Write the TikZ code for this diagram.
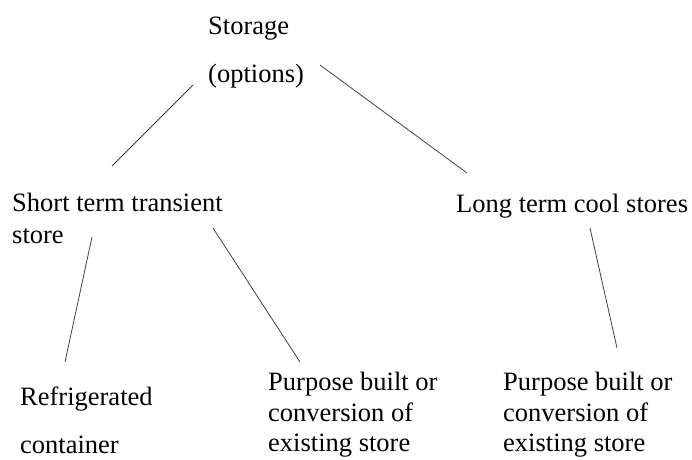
\documentclass[tikz,border=0pt]{standalone}
\usepackage{fontspec}
\setmainfont{Liberation Serif}
\begin{document}
\begin{tikzpicture}[x=1pt,y=-1pt,
  lbl/.style={anchor=base west,inner sep=0pt,align=left,font=\rmfamily\fontsize{26.5}{31.5}\selectfont},
  conn/.style={draw=black!75,line width=0.8pt}]
\useasboundingbox (0,0) rectangle (692,459);
\node[lbl] (storage) at (208,82) {Storage\\[16.5pt](options)};
\node[lbl] (short) at (12,243) {Short term transient\\store};
\node[lbl] (long) at (456,212) {Long term cool stores};
\node[lbl] (refrig) at (20,453) {Refrigerated\\[16.5pt]container};
\node[lbl] (pb1) at (268,451.5) {Purpose built or\\[-1pt]conversion of\\[-1pt]existing store};
\node[lbl] (pb2) at (503,451.5) {Purpose built or\\[-1pt]conversion of\\[-1pt]existing store};
\coordinate (a1) at (193,85);  \coordinate (a2) at (112,166);
\coordinate (b1) at (320,65);  \coordinate (b2) at (467,173);
\coordinate (c1) at (92,237);  \coordinate (c2) at (65,362);
\coordinate (d1) at (213,228); \coordinate (d2) at (300,362);
\coordinate (e1) at (590,228); \coordinate (e2) at (617,348);
\draw[conn] (a1) -- (a2);
\draw[conn] (b1) -- (b2);
\draw[conn] (c1) -- (c2);
\draw[conn] (d1) -- (d2);
\draw[conn] (e1) -- (e2);
\end{tikzpicture}
\end{document}
